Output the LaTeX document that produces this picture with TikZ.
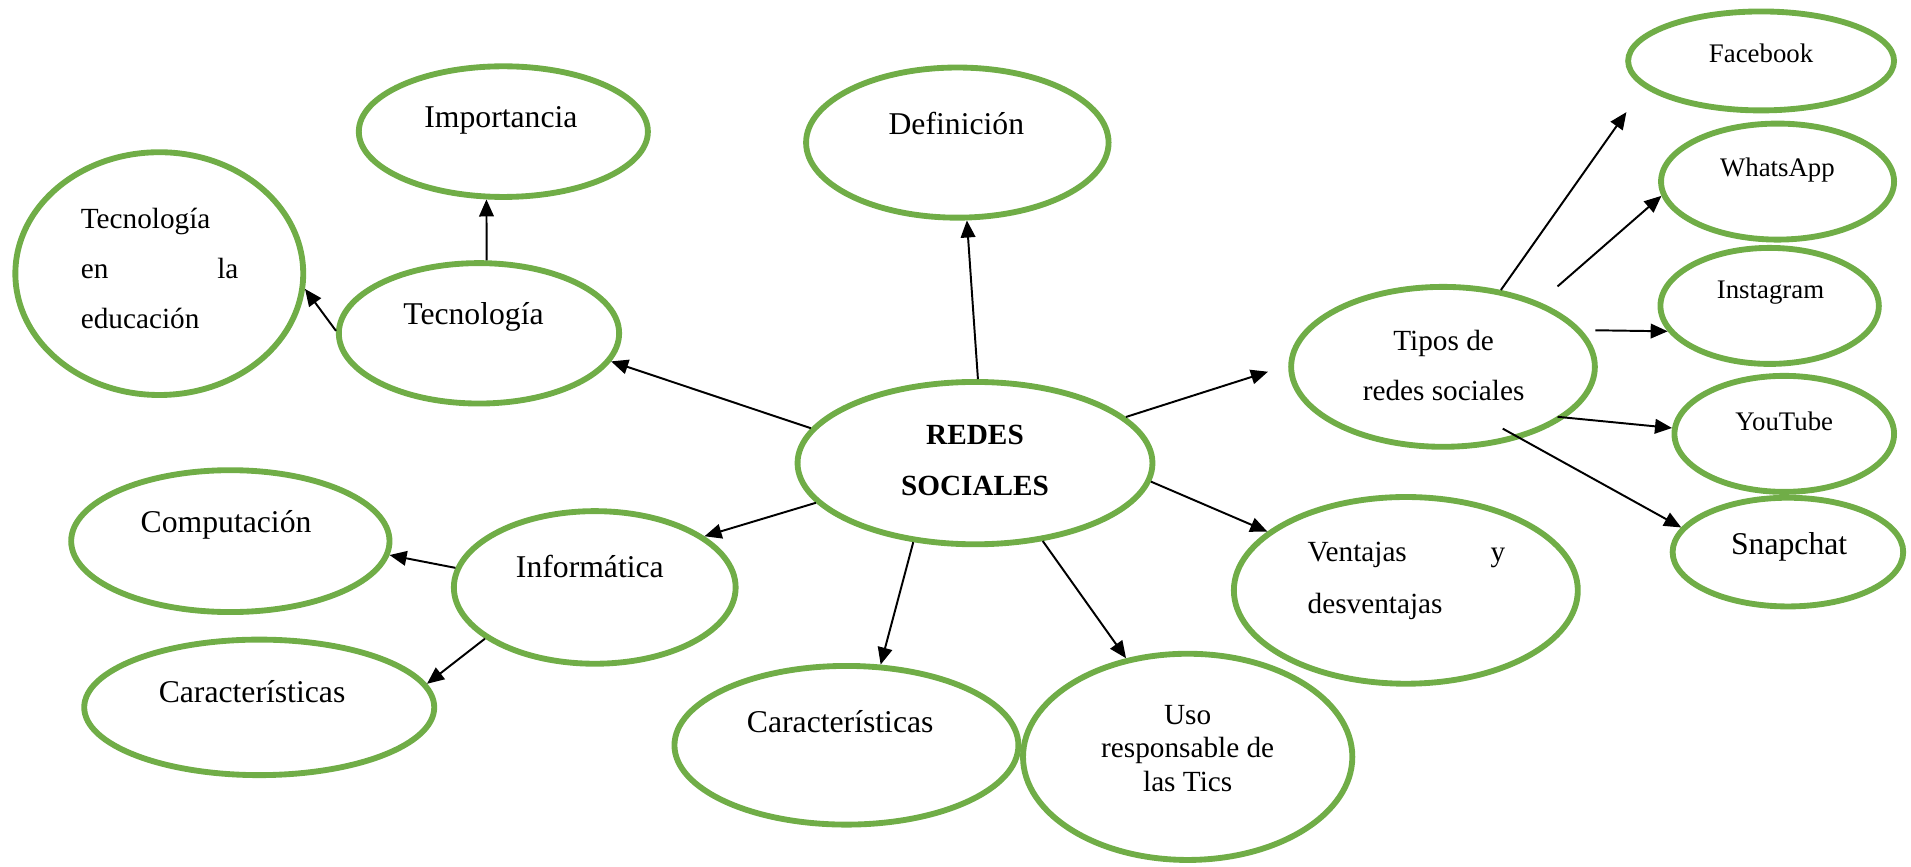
\documentclass[tikz,border=0pt]{standalone}
\usepackage{fontspec}
\setmainfont{Liberation Serif}
\usetikzlibrary{shapes.geometric,arrows.meta}
\definecolor{grn}{HTML}{70AD47}
\begin{document}
\begin{tikzpicture}[x=1pt,y=-1pt,
  bub/.style 2 args={ellipse,draw=grn,line width=4.8pt,minimum width=#1,minimum height=#2,inner sep=0pt},
  big/.style={inner sep=0pt,font=\fontsize{26}{31}\selectfont},
  mid/.style={inner sep=0pt,font=\fontsize{24}{29}\selectfont},
  sml/.style={inner sep=0pt,font=\fontsize{22}{26}\selectfont},
  arr/.style={line width=1.6pt,-{Triangle[length=14pt,width=12pt]}}]
\useasboundingbox (0,0) rectangle (1568,711);

% ellipses
\node[bub={237.2pt}{107.2pt}] (imp) at (413,108) {};
\node[bub={248.2pt}{123.2pt}] (def) at (785.5,117) {};
\node[bub={236.2pt}{199.2pt}] (edu) at (130.7,224.5) {};
\node[bub={230pt}{115.2pt}] (tec) at (393,273.5) {};
\node[bub={291.2pt}{133.2pt}] (rs) at (800,380) {};
\node[bub={249.2pt}{131.2pt}] (tipos) at (1184,301) {};
\node[bub={218.2pt}{81.2pt}] (fb) at (1445,50) {};
\node[bub={191.2pt}{95.2pt}] (wa) at (1458.5,149) {};
\node[bub={179.2pt}{95.2pt}] (ig) at (1452,251) {};
\node[bub={180.2pt}{95.2pt}] (yt) at (1464,356) {};
\node[bub={189.2pt}{89.2pt}] (sc) at (1467,453) {};
\node[bub={282.2pt}{153.2pt}] (ven) at (1153.5,484.4) {};
\node[bub={261.2pt}{116.4pt}] (comp) at (189,444) {};
\node[bub={231.2pt}{125.2pt}] (inf) at (488,482) {};
\node[bub={287.2pt}{111.2pt}] (car1) at (212.7,580.4) {};
\node[bub={282.2pt}{130.2pt}] (car2) at (694.5,611.5) {};
\node[bub={270.2pt}{169.2pt}] (uso) at (974.5,621) {};

% texts
\node[big] (timp) at (411,98.5) {Importancia};
\node[big] (tdef) at (784.7,101) {Definición};
\node[mid,font=\fontsize{24}{41}\selectfont,text width=129.3pt,align=left] (tedu) at (131,220) {Tecnología\\en\hfill la\\educación};
\node[big] (ttec) at (388.5,259.8) {Tecnología};
\node[mid,font=\fontsize{24}{42}\selectfont\bfseries,align=center] (trs) at (800,378) {REDES\\SOCIALES};
\node[mid,font=\fontsize{24}{40.5}\selectfont,align=center] (ttipos) at (1184.5,299.8) {Tipos de\\redes sociales};
\node[sml] (tfb) at (1445,44) {Facebook};
\node[sml] (twa) at (1458.4,139.7) {WhatsApp};
\node[sml] (tig) at (1452.7,240) {Instagram};
\node[sml] (tyt) at (1464,345.4) {YouTube};
\node[big] (tsc) at (1468,448.5) {Snapchat};
\node[mid,font=\fontsize{24}{42.4}\selectfont,text width=162pt,align=left] (tven) at (1154,476.6) {Ventajas\hfill y\\desventajas};
\node[big] (tcomp) at (185.5,430.8) {Computación};
\node[big] (tinf) at (484,465) {Informática};
\node[big] (tcar1) at (206.8,567.5) {Características};
\node[big] (tcar2) at (689.4,592.5) {Características};
\node[mid,font=\fontsize{24}{27.5}\selectfont,align=center] (tuso) at (974.5,614) {Uso\\responsable de\\las Tics};

% free ends
\coordinate (tp1) at (1040.4,305);
\coordinate (fb1) at (1334.5,92);
\coordinate (wa0) at (1278,235);
\coordinate (ig0) at (1309,271);
\coordinate (yt0) at (1278,342);
\coordinate (sc0) at (1233,351.7);

% arrows
\draw[arr] (tec.84) -- (imp.256);
\draw[arr] (tec.179) -- (edu.354);
\draw[arr] (rs.168) -- (tec.348);
\draw[arr] (rs.88) -- (def.277);
\draw[arr] (rs.17) -- (tp1);
\draw[arr] (rs.194) -- (inf.25);
\draw[arr] (rs.232) -- (car2.67);
\draw[arr] (rs.311) -- (uso.122);
\draw[arr] (rs.354) -- (ven.157);
\draw[arr] (inf.172) -- (comp.355);
\draw[arr] (inf.205) -- (car1.8);
\draw[arr] (tipos.53) -- (fb1);
\draw[arr] (wa0) -- (wa.187);
\draw[arr] (ig0) -- (ig.194);
\draw[arr] (yt0) -- (yt.177);
\draw[arr] (sc0) -- (sc.167);
\end{tikzpicture}
\end{document}
